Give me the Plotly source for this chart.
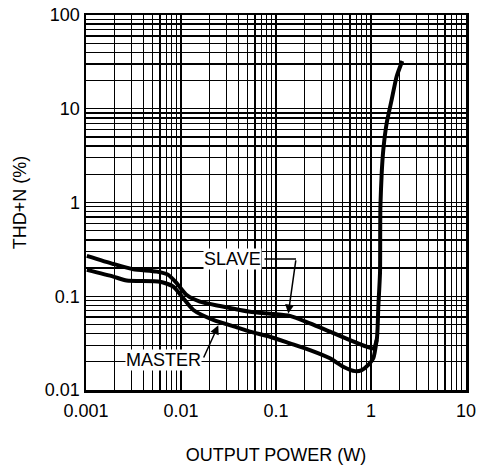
import plotly.graph_objects as go

# ---- data ----
slave_x = [0.00102, 0.00194, 0.00315, 0.00555, 0.00735, 0.0090, 0.0115, 0.0158, 0.0258,
           0.0418, 0.0532, 0.0937, 0.140, 0.228, 0.370, 0.601, 0.901, 1.057, 1.148,
           1.194, 1.244, 1.250, 1.256, 1.296, 1.348, 1.463, 1.651, 1.865, 2.135]
slave_y = [0.27, 0.221, 0.194, 0.183, 0.169, 0.138, 0.103, 0.0875, 0.0787,
           0.0714, 0.0684, 0.0647, 0.0617, 0.0514, 0.0419, 0.0341, 0.029, 0.0278, 0.0341,
           0.0774, 0.177, 0.51, 0.906, 2.06, 3.66, 7.05, 12.5, 22.2, 32.3]

master_x = [0.00102, 0.00194, 0.00268, 0.00601, 0.0083, 0.01056, 0.0135, 0.0219, 0.0418,
            0.0532, 0.0865, 0.140, 0.228, 0.370, 0.510, 0.679, 0.798, 0.937, 1.057, 1.148]
master_y = [0.191, 0.162, 0.147, 0.143, 0.127, 0.0953, 0.0714, 0.0559, 0.0455,
            0.0419, 0.037, 0.0315, 0.0267, 0.0218, 0.0177, 0.0159, 0.0163, 0.0185, 0.0218, 0.0341]

decades_x = [0.001, 0.01, 0.1, 1, 10]
x_tick_labels = ["0.001", "0.01", "0.1", "1", "10"]
decades_y = [0.01, 0.1, 1, 10, 100]
y_tick_labels = ["0.01", "0.1", "1", "10", "100"]

x_title = "OUTPUT POWER (W)"
y_title = "THD+N (%)"
slave_label = "SLAVE"
master_label = "MASTER"


def grid_vals(decades, labels):
    vals, texts = [], []
    for d, lab in zip(decades, labels):
        vals.append(d)
        texts.append(lab)
        if d != decades[-1]:
            for m in range(2, 10):
                vals.append(d * m)
                texts.append("")
    return vals, texts


xv, xt = grid_vals(decades_x, x_tick_labels)
yv, yt = grid_vals(decades_y, y_tick_labels)

FONT = "Liberation Sans, Arial, sans-serif"

fig = go.Figure()
fig.add_trace(go.Scatter(x=master_x, y=master_y, mode="lines",
                         line=dict(color="black", width=4, shape="spline", smoothing=0.6),
                         showlegend=False, hoverinfo="skip"))
fig.add_trace(go.Scatter(x=slave_x, y=slave_y, mode="lines",
                         line=dict(color="black", width=4, shape="spline", smoothing=0.6),
                         showlegend=False, hoverinfo="skip"))

axis_common = dict(type="log", showgrid=True, gridcolor="black", gridwidth=1.4,
                   showline=True, linecolor="black", linewidth=2.5, mirror=True,
                   ticks="", zeroline=False, automargin=False,
                   ticklabeloverflow="allow",
                   tickfont=dict(family=FONT, size=18, color="black"))

fig.update_xaxes(range=[-3, 1], tickmode="array", tickvals=xv, ticktext=xt,
                 ticklabelstandoff=3,
                 title=dict(text=x_title, font=dict(family=FONT, size=18, color="black"),
                            standoff=29),
                 **axis_common)
fig.update_yaxes(range=[-2, 2], tickmode="array", tickvals=yv, ticktext=yt,
                 title=dict(text=y_title, font=dict(family=FONT, size=18, color="black"),
                            standoff=14),
                 **axis_common)

ann_font = dict(family=FONT, size=18, color="black")
annotations = [
    # SLAVE label and leader
    dict(x=-1.463, y=-0.6015, xref="x", yref="y", text=slave_label, showarrow=False,
         bgcolor="white", font=ann_font, borderpad=0),
    dict(x=-0.7895, y=-0.6015, ax=-1.1368, ay=-0.6015, xref="x", yref="y",
         axref="x", ayref="y", text="", showarrow=True, arrowhead=0, arrowwidth=1.5,
         arrowcolor="black"),
    dict(x=-0.8705, y=-1.185, ax=-0.7895, ay=-0.6015, xref="x", yref="y",
         axref="x", ayref="y", text="", showarrow=True, arrowhead=2, arrowsize=1.2,
         arrowwidth=1.5, arrowcolor="black"),
    # MASTER label and leader
    dict(x=-2.189, y=-1.6805, xref="x", yref="y", text=master_label, showarrow=False,
         bgcolor="white", font=ann_font, borderpad=0),
    dict(x=-1.6074, y=-1.31, ax=-1.7684, ay=-1.67, xref="x", yref="y",
         axref="x", ayref="y", text="", showarrow=True, arrowhead=2, arrowsize=1.2,
         arrowwidth=1.5, arrowcolor="black"),
]

fig.update_layout(width=479, height=468,
                  margin=dict(l=86, r=13, t=15, b=78),
                  paper_bgcolor="white", plot_bgcolor="white",
                  font=dict(family=FONT, color="black"),
                  hovermode=False,
                  annotations=annotations)

# remove the page's default body margin so the figure fills the window exactly
fig.write_html("out.html",
               config={"displayModeBar": False, "staticPlot": True},
               post_script="document.body.style.margin='0';document.body.style.overflow='hidden';")
